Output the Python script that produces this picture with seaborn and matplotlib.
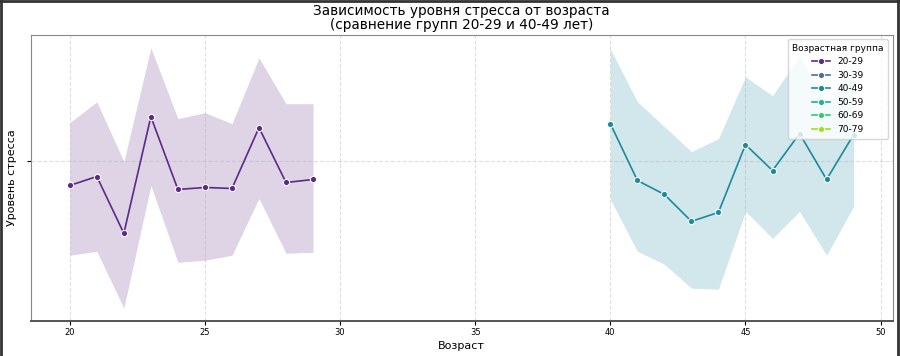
import numpy as np
import pandas as pd
import seaborn as sns
from matplotlib import pyplot as plt
from matplotlib.lines import Line2D

# values
groups = ['20-29', '30-39', '40-49', '50-59', '60-69', '70-79']
palette = ['#5b2a86', '#4a6fa5', '#1b8a9b', '#1ab394', '#2ecc71', '#9be31e']

ages_20 = [20, 21, 22, 23, 24, 25, 26, 27, 28, 29]
mean_20 = [5.25, 5.34, 4.77, 5.94, 5.21, 5.23, 5.22, 5.83, 5.28, 5.31]
upper_20 = [5.88, 6.09, 5.49, 6.63, 5.92, 5.98, 5.87, 6.53, 6.07, 6.07]
lower_20 = [4.55, 4.59, 4.02, 5.25, 4.48, 4.50, 4.55, 5.12, 4.57, 4.58]

ages_40 = [40, 41, 42, 43, 44, 45, 46, 47, 48, 49]
mean_40 = [5.87, 5.30, 5.16, 4.89, 4.98, 5.66, 5.40, 5.77, 5.31, 5.76]
upper_40 = [6.62, 6.09, 5.84, 5.59, 5.72, 6.34, 6.15, 6.55, 6.07, 6.47]
lower_40 = [5.11, 4.59, 4.46, 4.22, 4.21, 4.99, 4.72, 4.99, 4.55, 5.04]

ytick_val = 5.5

# long table: three rows per age (low, middle, high) -> median line, min/max band
rows = []
for grp, ages, lo, mid, hi in [('20-29', ages_20, lower_20, mean_20, upper_20),
                               ('40-49', ages_40, lower_40, mean_40, upper_40)]:
    for a, l, m, h in zip(ages, lo, mid, hi):
        for v in (l, m, h):
            rows.append({'Возраст': a, 'Уровень стресса': v, 'Возрастная группа': grp})
df = pd.DataFrame(rows)

fig, ax = plt.subplots(figsize=(9, 3.56), dpi=100)
fig.subplots_adjust(left=0.034, right=0.992, bottom=0.098, top=0.902)

sns.lineplot(data=df, x='Возраст', y='Уровень стресса', hue='Возрастная группа',
             hue_order=groups, palette=palette, estimator='median',
             errorbar=lambda v: (v.min(), v.max()), marker='o', markersize=4.5,
             linewidth=1.2, err_kws={'alpha': 0.2, 'linewidth': 0}, ax=ax)

ax.set_title('Зависимость уровня стресса от возраста\n(сравнение групп 20-29 и 40-49 лет)',
             fontsize=9.8, pad=4, linespacing=1.0)
ax.set_xlabel('Возраст', fontsize=8, labelpad=3)
ax.set_ylabel('Уровень стресса', fontsize=8)
ax.yaxis.set_label_coords(-0.016, 0.5)
ax.set_yticks([ytick_val])
ax.set_yticklabels([''])
ax.tick_params(axis='x', labelsize=6, pad=2, length=3)
ax.tick_params(axis='y', length=3)
ax.grid(True, linestyle='--', alpha=0.4)
for s in ax.spines.values():
    s.set_color('#888888')
ax.spines['bottom'].set_color('#555555')
ax.spines['bottom'].set_linewidth(1.4)

ax.legend(title='Возрастная группа', loc='upper right', fontsize=6.5,
          title_fontsize=6.5, borderpad=0.5, labelspacing=0.5)

# dark frame of the screenshot (left, top, right)
for xs, ys in [([0.001, 0.001], [0, 1]), ([0, 1], [0.998, 0.998]), ([0.998, 0.998], [0, 1])]:
    fig.add_artist(Line2D(xs, ys, transform=fig.transFigure, color='#333333', linewidth=2))

fig.savefig('out.png', dpi=100)
